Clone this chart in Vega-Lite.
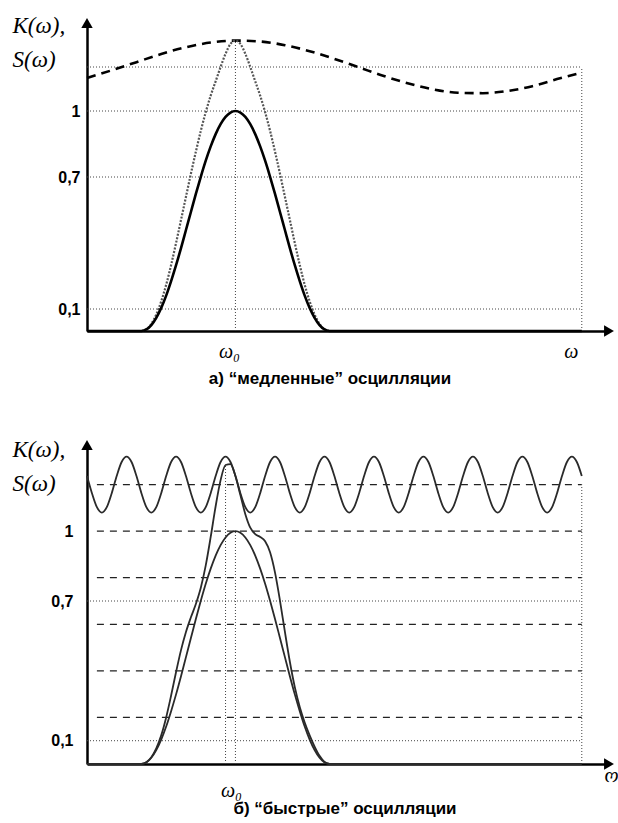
{
  "$schema": "https://vega.github.io/schema/vega-lite/v6.json",
  "background": "white",
  "padding": {"left": 12, "top": 14, "right": 0, "bottom": 5},
  "spacing": 51,
  "config": {
    "view": {"stroke": null},
    "axis": {"labelColor": "black", "domainColor": "black", "domainWidth": 2.5, "grid": false, "ticks": false, "tickSize": 0, "labelOverlap": false, "zindex": 1}
  },
  "datasets": {
    "a_hgrid": [{"v": 0.1, "x0": 0, "x1": 100}, {"v": 0.7, "x0": 0, "x1": 100}, {"v": 1, "x0": 0, "x1": 100}, {"v": 1.2, "x0": 0, "x1": 100}],
    "a_vgrid": [{"w": 30, "bot": 0, "top": 1.32}, {"w": 100, "bot": 0, "top": 1.2}],
    "b_hdot": [{"v": 0.1, "x0": 0, "x1": 100}, {"v": 0.7, "x0": 0, "x1": 100}],
    "b_hdash": [{"v": 0.2, "x0": 2, "x1": 100}, {"v": 0.4, "x0": 2, "x1": 100}, {"v": 0.6, "x0": 2, "x1": 100}, {"v": 0.8, "x0": 2, "x1": 100}, {"v": 1, "x0": 2, "x1": 100}, {"v": 1.2, "x0": 2, "x1": 100}],
    "b_vgrid": [{"w": 28, "bot": 0, "top": 1.284}, {"w": 30, "bot": 0, "top": 1}, {"w": 100, "bot": 0, "top": 1.2}],
    "K": [
      {"x": 0, "y": 0}, {"x": 11, "y": 0}, {"x": 12, "y": 0.007}, {"x": 13, "y": 0.027}, {"x": 14, "y": 0.06}, {"x": 15, "y": 0.105}, {"x": 16, "y": 0.161}, {"x": 17, "y": 0.227}, {"x": 18, "y": 0.299}, {"x": 19, "y": 0.377}, {"x": 20, "y": 0.459}, {"x": 21, "y": 0.541}, {"x": 22, "y": 0.623}, {"x": 23, "y": 0.701}, {"x": 24, "y": 0.774}, {"x": 25, "y": 0.839}, {"x": 26, "y": 0.895}, {"x": 27, "y": 0.94}, {"x": 28, "y": 0.973}, {"x": 29, "y": 0.993}, {"x": 30, "y": 1}, {"x": 31, "y": 0.993}, {"x": 32, "y": 0.973}, {"x": 33, "y": 0.94}, {"x": 34, "y": 0.895}, {"x": 35, "y": 0.839}, {"x": 36, "y": 0.774}, {"x": 37, "y": 0.701}, {"x": 38, "y": 0.623}, {"x": 39, "y": 0.541}, {"x": 40, "y": 0.459}, {"x": 41, "y": 0.377}, {"x": 42, "y": 0.299}, {"x": 43, "y": 0.227}, {"x": 44, "y": 0.161}, {"x": 45, "y": 0.105}, {"x": 46, "y": 0.06}, {"x": 47, "y": 0.027}, {"x": 48, "y": 0.007}, {"x": 49, "y": 0}, {"x": 100, "y": 0}
    ],
    "a_P": [
      {"x": 11, "y": 0}, {"x": 12, "y": 0.008}, {"x": 13, "y": 0.032}, {"x": 14, "y": 0.075}, {"x": 15, "y": 0.135}, {"x": 16, "y": 0.21}, {"x": 17, "y": 0.3}, {"x": 18, "y": 0.4}, {"x": 19, "y": 0.505}, {"x": 20, "y": 0.61}, {"x": 21, "y": 0.715}, {"x": 22, "y": 0.815}, {"x": 23, "y": 0.91}, {"x": 24, "y": 0.995}, {"x": 25, "y": 1.07}, {"x": 26, "y": 1.135}, {"x": 27, "y": 1.2}, {"x": 28, "y": 1.26}, {"x": 29, "y": 1.305}, {"x": 30, "y": 1.32}, {"x": 31, "y": 1.305}, {"x": 32, "y": 1.26}, {"x": 33, "y": 1.2}, {"x": 34, "y": 1.135}, {"x": 35, "y": 1.07}, {"x": 36, "y": 0.995}, {"x": 37, "y": 0.91}, {"x": 38, "y": 0.815}, {"x": 39, "y": 0.715}, {"x": 40, "y": 0.61}, {"x": 41, "y": 0.505}, {"x": 42, "y": 0.4}, {"x": 43, "y": 0.3}, {"x": 44, "y": 0.21}, {"x": 45, "y": 0.135}, {"x": 46, "y": 0.075}, {"x": 47, "y": 0.032}, {"x": 48, "y": 0.008}, {"x": 49, "y": 0}
    ],
    "a_S": [
      {"x": 0, "y": 1.15}, {"x": 5, "y": 1.185}, {"x": 10, "y": 1.222}, {"x": 15, "y": 1.259}, {"x": 20, "y": 1.29}, {"x": 25, "y": 1.311}, {"x": 30, "y": 1.32}, {"x": 35, "y": 1.316}, {"x": 40, "y": 1.299}, {"x": 45, "y": 1.272}, {"x": 50, "y": 1.237}, {"x": 55, "y": 1.198}, {"x": 60, "y": 1.159}, {"x": 65, "y": 1.125}, {"x": 70, "y": 1.098}, {"x": 75, "y": 1.083}, {"x": 80, "y": 1.081}, {"x": 85, "y": 1.091}, {"x": 90, "y": 1.113}, {"x": 95, "y": 1.145}, {"x": 100, "y": 1.175}
    ],
    "b_P": [
      {"x": 11, "y": 0}, {"x": 12, "y": 0.008}, {"x": 13, "y": 0.029}, {"x": 14, "y": 0.067}, {"x": 15, "y": 0.123}, {"x": 16, "y": 0.2}, {"x": 17, "y": 0.294}, {"x": 18, "y": 0.395}, {"x": 19, "y": 0.489}, {"x": 20, "y": 0.567}, {"x": 21, "y": 0.63}, {"x": 22, "y": 0.687}, {"x": 23, "y": 0.757}, {"x": 24, "y": 0.853}, {"x": 25, "y": 0.975}, {"x": 26, "y": 1.107}, {"x": 27, "y": 1.219}, {"x": 28, "y": 1.284}, {"x": 29, "y": 1.288}, {"x": 30, "y": 1.237}, {"x": 31, "y": 1.155}, {"x": 32, "y": 1.073}, {"x": 33, "y": 1.015}, {"x": 34, "y": 0.987}, {"x": 35, "y": 0.975}, {"x": 36, "y": 0.957}, {"x": 37, "y": 0.909}, {"x": 38, "y": 0.822}, {"x": 39, "y": 0.702}, {"x": 40, "y": 0.567}, {"x": 41, "y": 0.439}, {"x": 42, "y": 0.33}, {"x": 43, "y": 0.245}, {"x": 44, "y": 0.178}, {"x": 45, "y": 0.123}, {"x": 46, "y": 0.075}, {"x": 47, "y": 0.035}, {"x": 48, "y": 0.009}, {"x": 49, "y": 0}
    ],
    "b_S": [
      {"x": 0, "y": 1.237}, {"x": 1, "y": 1.163}, {"x": 2, "y": 1.103}, {"x": 3, "y": 1.08}, {"x": 4, "y": 1.103}, {"x": 5, "y": 1.163}, {"x": 6, "y": 1.237}, {"x": 7, "y": 1.297}, {"x": 8, "y": 1.32}, {"x": 9, "y": 1.297},
      {"x": 10, "y": 1.237}, {"x": 11, "y": 1.163}, {"x": 12, "y": 1.103}, {"x": 13, "y": 1.08}, {"x": 14, "y": 1.103}, {"x": 15, "y": 1.163}, {"x": 16, "y": 1.237}, {"x": 17, "y": 1.297}, {"x": 18, "y": 1.32}, {"x": 19, "y": 1.297},
      {"x": 20, "y": 1.237}, {"x": 21, "y": 1.163}, {"x": 22, "y": 1.103}, {"x": 23, "y": 1.08}, {"x": 24, "y": 1.103}, {"x": 25, "y": 1.163}, {"x": 26, "y": 1.237}, {"x": 27, "y": 1.297}, {"x": 28, "y": 1.32}, {"x": 29, "y": 1.297},
      {"x": 30, "y": 1.237}, {"x": 31, "y": 1.163}, {"x": 32, "y": 1.103}, {"x": 33, "y": 1.08}, {"x": 34, "y": 1.103}, {"x": 35, "y": 1.163}, {"x": 36, "y": 1.237}, {"x": 37, "y": 1.297}, {"x": 38, "y": 1.32}, {"x": 39, "y": 1.297},
      {"x": 40, "y": 1.237}, {"x": 41, "y": 1.163}, {"x": 42, "y": 1.103}, {"x": 43, "y": 1.08}, {"x": 44, "y": 1.103}, {"x": 45, "y": 1.163}, {"x": 46, "y": 1.237}, {"x": 47, "y": 1.297}, {"x": 48, "y": 1.32}, {"x": 49, "y": 1.297},
      {"x": 50, "y": 1.237}, {"x": 51, "y": 1.163}, {"x": 52, "y": 1.103}, {"x": 53, "y": 1.08}, {"x": 54, "y": 1.103}, {"x": 55, "y": 1.163}, {"x": 56, "y": 1.237}, {"x": 57, "y": 1.297}, {"x": 58, "y": 1.32}, {"x": 59, "y": 1.297},
      {"x": 60, "y": 1.237}, {"x": 61, "y": 1.163}, {"x": 62, "y": 1.103}, {"x": 63, "y": 1.08}, {"x": 64, "y": 1.103}, {"x": 65, "y": 1.163}, {"x": 66, "y": 1.237}, {"x": 67, "y": 1.297}, {"x": 68, "y": 1.32}, {"x": 69, "y": 1.297},
      {"x": 70, "y": 1.237}, {"x": 71, "y": 1.163}, {"x": 72, "y": 1.103}, {"x": 73, "y": 1.08}, {"x": 74, "y": 1.103}, {"x": 75, "y": 1.163}, {"x": 76, "y": 1.237}, {"x": 77, "y": 1.297}, {"x": 78, "y": 1.32}, {"x": 79, "y": 1.297},
      {"x": 80, "y": 1.237}, {"x": 81, "y": 1.163}, {"x": 82, "y": 1.103}, {"x": 83, "y": 1.08}, {"x": 84, "y": 1.103}, {"x": 85, "y": 1.163}, {"x": 86, "y": 1.237}, {"x": 87, "y": 1.297}, {"x": 88, "y": 1.32}, {"x": 89, "y": 1.297},
      {"x": 90, "y": 1.237}, {"x": 91, "y": 1.163}, {"x": 92, "y": 1.103}, {"x": 93, "y": 1.08}, {"x": 94, "y": 1.103}, {"x": 95, "y": 1.163}, {"x": 96, "y": 1.237}, {"x": 97, "y": 1.297}, {"x": 98, "y": 1.32}, {"x": 99, "y": 1.297},
      {"x": 100, "y": 1.237}
    ]
  },
  "vconcat": [
    {
      "width": 522,
      "height": 308,
      "title": {"text": "а) “медленные” осцилляции", "orient": "bottom", "anchor": "middle", "frame": "group", "dx": -18, "offset": 10, "font": "Liberation Sans", "fontSize": 17, "fontWeight": "bold", "color": "black"},
      "layer": [
        {
          "data": {"name": "a_hgrid"},
          "mark": {"type": "rule", "color": "#444", "strokeWidth": 1, "strokeDash": [1, 2]},
          "encoding": {
            "y": {"field": "v", "type": "quantitative", "scale": {"domain": [0, 1.4], "nice": false, "zero": false}},
            "x": {"field": "x0", "type": "quantitative", "scale": {"domain": [0, 105.5], "nice": false, "zero": false}},
            "x2": {"field": "x1"}
          }
        },
        {
          "data": {"name": "a_vgrid"},
          "mark": {"type": "rule", "color": "#444", "strokeWidth": 1, "strokeDash": [1, 2]},
          "encoding": {
            "x": {"field": "w", "type": "quantitative", "scale": {"domain": [0, 105.5], "nice": false, "zero": false}},
            "y": {"field": "bot", "type": "quantitative", "scale": {"domain": [0, 1.4], "nice": false, "zero": false}},
            "y2": {"field": "top"}
          }
        },
        {
          "data": {"name": "a_S"},
          "mark": {"type": "line", "color": "black", "strokeWidth": 2.6, "strokeDash": [9, 6], "interpolate": "monotone"},
          "encoding": {
            "x": {"field": "x", "type": "quantitative", "scale": {"domain": [0, 105.5], "nice": false, "zero": false}},
            "y": {"field": "y", "type": "quantitative", "scale": {"domain": [0, 1.4], "nice": false, "zero": false}}
          }
        },
        {
          "data": {"name": "a_P"},
          "mark": {"type": "line", "color": "#555", "strokeWidth": 2.2, "strokeDash": [2, 1.5], "interpolate": "monotone"},
          "encoding": {
            "x": {"field": "x", "type": "quantitative", "scale": {"domain": [0, 105.5], "nice": false, "zero": false}},
            "y": {"field": "y", "type": "quantitative", "scale": {"domain": [0, 1.4], "nice": false, "zero": false}}
          }
        },
        {
          "data": {"name": "K"},
          "mark": {"type": "line", "color": "black", "strokeWidth": 2.6, "interpolate": "monotone"},
          "encoding": {
            "x": {"field": "x", "type": "quantitative", "scale": {"domain": [0, 105.5], "nice": false, "zero": false},
              "axis": {"values": [28.7, 97.8], "labelExpr": "datum.value < 50 ? 'ω₀' : 'ω'", "labelFont": "Liberation Serif", "labelFontStyle": "italic", "labelFontSize": 20, "labelBaseline": "alphabetic", "labelPadding": 26, "labelFlush": false, "title": null}},
            "y": {"field": "y", "type": "quantitative", "scale": {"domain": [0, 1.4], "nice": false, "zero": false},
              "axis": {"values": [0.1, 0.7, 1], "format": "~g", "labelExpr": "replace(datum.label, '.', ',')", "labelFont": "Liberation Sans", "labelFontSize": 16, "labelFontWeight": "bold", "labelPadding": 7,
                "title": ["K(ω),", "S(ω)"], "titleAngle": 0, "titleAlign": "left", "titleBaseline": "alphabetic", "titleX": -75, "titleY": 9, "titleFont": "Liberation Serif", "titleFontStyle": "italic", "titleFontWeight": "normal", "titleFontSize": 23, "titleLineHeight": 34, "titleColor": "black"}}
          }
        },
        {
          "data": {"values": [{"ax": 0, "ay": 1.4}]},
          "mark": {"type": "point", "shape": "triangle-up", "filled": true, "color": "black", "size": 130, "opacity": 1},
          "encoding": {
            "x": {"field": "ax", "type": "quantitative", "scale": {"domain": [0, 105.5], "nice": false, "zero": false}},
            "y": {"field": "ay", "type": "quantitative", "scale": {"domain": [0, 1.4], "nice": false, "zero": false}}
          }
        },
        {
          "data": {"values": [{"ax": 105.5, "ay": 0}]},
          "mark": {"type": "point", "shape": "triangle-right", "filled": true, "color": "black", "size": 130, "opacity": 1},
          "encoding": {
            "x": {"field": "ax", "type": "quantitative", "scale": {"domain": [0, 105.5], "nice": false, "zero": false}},
            "y": {"field": "ay", "type": "quantitative", "scale": {"domain": [0, 1.4], "nice": false, "zero": false}}
          }
        }
      ]
    },
    {
      "width": 522,
      "height": 319,
      "title": {"text": "б) “быстрые” осцилляции", "orient": "bottom", "anchor": "middle", "frame": "group", "dx": -3, "offset": 1, "font": "Liberation Sans", "fontSize": 17, "fontWeight": "bold", "color": "black"},
      "layer": [
        {
          "data": {"name": "b_hdot"},
          "mark": {"type": "rule", "color": "#444", "strokeWidth": 1, "strokeDash": [1, 2]},
          "encoding": {
            "y": {"field": "v", "type": "quantitative", "scale": {"domain": [0, 1.37], "nice": false, "zero": false}},
            "x": {"field": "x0", "type": "quantitative", "scale": {"domain": [0, 105.5], "nice": false, "zero": false}},
            "x2": {"field": "x1"}
          }
        },
        {
          "data": {"name": "b_hdash"},
          "mark": {"type": "rule", "color": "#222", "strokeWidth": 1.3, "strokeDash": [7, 6]},
          "encoding": {
            "y": {"field": "v", "type": "quantitative", "scale": {"domain": [0, 1.37], "nice": false, "zero": false}},
            "x": {"field": "x0", "type": "quantitative", "scale": {"domain": [0, 105.5], "nice": false, "zero": false}},
            "x2": {"field": "x1"}
          }
        },
        {
          "data": {"name": "b_vgrid"},
          "mark": {"type": "rule", "color": "#444", "strokeWidth": 1, "strokeDash": [1, 2]},
          "encoding": {
            "x": {"field": "w", "type": "quantitative", "scale": {"domain": [0, 105.5], "nice": false, "zero": false}},
            "y": {"field": "bot", "type": "quantitative", "scale": {"domain": [0, 1.37], "nice": false, "zero": false}},
            "y2": {"field": "top"}
          }
        },
        {
          "data": {"name": "b_S"},
          "mark": {"type": "line", "color": "#2a2a2a", "strokeWidth": 1.8, "interpolate": "monotone"},
          "encoding": {
            "x": {"field": "x", "type": "quantitative", "scale": {"domain": [0, 105.5], "nice": false, "zero": false}},
            "y": {"field": "y", "type": "quantitative", "scale": {"domain": [0, 1.37], "nice": false, "zero": false}}
          }
        },
        {
          "data": {"name": "b_P"},
          "mark": {"type": "line", "color": "#2a2a2a", "strokeWidth": 1.8, "interpolate": "monotone"},
          "encoding": {
            "x": {"field": "x", "type": "quantitative", "scale": {"domain": [0, 105.5], "nice": false, "zero": false}},
            "y": {"field": "y", "type": "quantitative", "scale": {"domain": [0, 1.37], "nice": false, "zero": false}}
          }
        },
        {
          "data": {"name": "K"},
          "mark": {"type": "line", "color": "#2a2a2a", "strokeWidth": 1.8, "interpolate": "monotone"},
          "encoding": {
            "x": {"field": "x", "type": "quantitative", "scale": {"domain": [0, 105.5], "nice": false, "zero": false},
              "axis": {"values": [29.1], "labelExpr": "'ω₀'", "labelFont": "Liberation Serif", "labelFontStyle": "italic", "labelFontSize": 20, "labelBaseline": "alphabetic", "labelPadding": 32, "labelFlush": false, "title": null}},
            "y": {"field": "y", "type": "quantitative", "scale": {"domain": [0, 1.37], "nice": false, "zero": false},
              "axis": {"values": [0.1, 0.7, 1], "format": "~g", "labelExpr": "replace(datum.label, '.', ',')", "labelFont": "Liberation Sans", "labelFontSize": 16, "labelFontWeight": "bold", "labelPadding": 14,
                "title": ["K(ω),", "S(ω)"], "titleAngle": 0, "titleAlign": "left", "titleBaseline": "alphabetic", "titleX": -75, "titleY": 11, "titleFont": "Liberation Serif", "titleFontStyle": "italic", "titleFontWeight": "normal", "titleFontSize": 23, "titleLineHeight": 34, "titleColor": "black"}}
          }
        },
        {
          "data": {"values": [{"ax": 0, "ay": 1.37}]},
          "mark": {"type": "point", "shape": "triangle-up", "filled": true, "color": "black", "size": 130, "opacity": 1},
          "encoding": {
            "x": {"field": "ax", "type": "quantitative", "scale": {"domain": [0, 105.5], "nice": false, "zero": false}},
            "y": {"field": "ay", "type": "quantitative", "scale": {"domain": [0, 1.37], "nice": false, "zero": false}}
          }
        },
        {
          "data": {"values": [{"ax": 105.5, "ay": 0}]},
          "mark": {"type": "point", "shape": "triangle-right", "filled": true, "color": "black", "size": 130, "opacity": 1},
          "encoding": {
            "x": {"field": "ax", "type": "quantitative", "scale": {"domain": [0, 105.5], "nice": false, "zero": false}},
            "y": {"field": "ay", "type": "quantitative", "scale": {"domain": [0, 1.37], "nice": false, "zero": false}}
          }
        },
        {
          "data": {"values": [{"t": "ω", "tx": 106, "ty": -0.06}]},
          "mark": {"type": "text", "angle": 180, "font": "Liberation Serif", "fontStyle": "italic", "fontSize": 20, "color": "black", "align": "center", "baseline": "middle"},
          "encoding": {
            "x": {"field": "tx", "type": "quantitative", "scale": {"domain": [0, 105.5], "nice": false, "zero": false}},
            "y": {"field": "ty", "type": "quantitative", "scale": {"domain": [0, 1.37], "nice": false, "zero": false}},
            "text": {"field": "t", "type": "nominal"}
          }
        }
      ]
    }
  ]
}
